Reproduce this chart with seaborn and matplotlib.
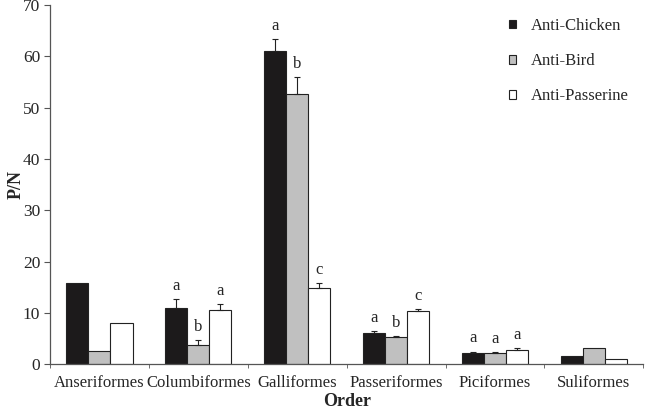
import pandas as pd
import numpy as np
import seaborn as sns
import matplotlib.pyplot as plt
from matplotlib.ticker import FixedLocator

# data
orders = ['Anseriformes', 'Columbiformes', 'Galliformes', 'Passeriformes', 'Piciformes', 'Suliformes']
series = ['Anti-Chicken', 'Anti-Bird', 'Anti-Passerine']
chicken = [15.8, 11.0, 61.0, 6.1, 2.2, 1.5]
bird = [2.6, 3.8, 52.6, 5.2, 2.2, 3.1]
passerine = [8.0, 10.5, 14.9, 10.3, 2.8, 1.1]
chicken_err = [0, 1.7, 2.3, 0.4, 0.25, 0]
bird_err = [0, 0.9, 3.3, 0.3, 0.15, 0]
passerine_err = [0, 1.2, 0.9, 0.5, 0.25, 0]
chicken_lab = ['', 'a', 'a', 'a', 'a', '']
bird_lab = ['', 'b', 'b', 'b', 'a', '']
passerine_lab = ['', 'a', 'c', 'c', 'a', '']

df = pd.DataFrame({'Order': orders * 3,
                   'Serum': np.repeat(series, len(orders)),
                   'PN': chicken + bird + passerine})
errs = [chicken_err, bird_err, passerine_err]
labs = [chicken_lab, bird_lab, passerine_lab]

sns.set_style('ticks')
plt.rcParams['font.family'] = ['Liberation Serif', 'DejaVu Serif']

fig = plt.figure(figsize=(6.45, 4.11), dpi=100)
ax = fig.add_axes([0.0775, 0.114, 0.92, 0.874])
sns.barplot(data=df, x='Order', y='PN', hue='Serum', hue_order=series,
            palette=['#1c1a1b', '#c0c0c0', '#ffffff'], edgecolor='#222222',
            linewidth=0.8, width=0.67, gap=0, ax=ax, legend=True)

# error bars (upper only) and significance letters
for cont, err, lab in zip(ax.containers, errs, labs):
    for bar, e, t in zip(cont, err, lab):
        x = bar.get_x() + bar.get_width() / 2
        h = bar.get_height()
        if e > 0:
            ax.errorbar(x, h, yerr=[[0], [e]], fmt='none', ecolor='#222222',
                        elinewidth=0.8, capsize=2.5, capthick=0.8)
        if t:
            ax.text(x, h + e + 1.0, t, ha='center', va='bottom', fontsize=12)

ax.set_ylim(0, 70)
ax.set_xlim(-0.5, len(orders) - 0.5)
ax.set_yticks(range(0, 71, 10))
ax.tick_params(axis='y', labelsize=12.5, length=4, color='#555555', pad=3)
ax.tick_params(axis='x', which='major', labelsize=12, length=0, pad=8)
ax.xaxis.set_minor_locator(FixedLocator(np.arange(-0.5, len(orders), 1)))
ax.tick_params(axis='x', which='minor', length=3, color='#555555')
sns.despine(ax=ax)
for s in ['left', 'bottom']:
    ax.spines[s].set_color('#555555')
    ax.spines[s].set_linewidth(0.9)

ax.set_xlabel('Order', fontsize=13, fontweight='bold', labelpad=1)
ax.set_ylabel('P/N', fontsize=13, fontweight='bold')
ax.yaxis.set_label_coords(-0.042, 0.5)

ax.legend(loc='upper right', bbox_to_anchor=(1.0, 1.005), frameon=False,
          fontsize=12, handlelength=0.4, handleheight=0.4, labelspacing=1.15,
          handletextpad=0.9)

fig.savefig('out.png', dpi=100)
